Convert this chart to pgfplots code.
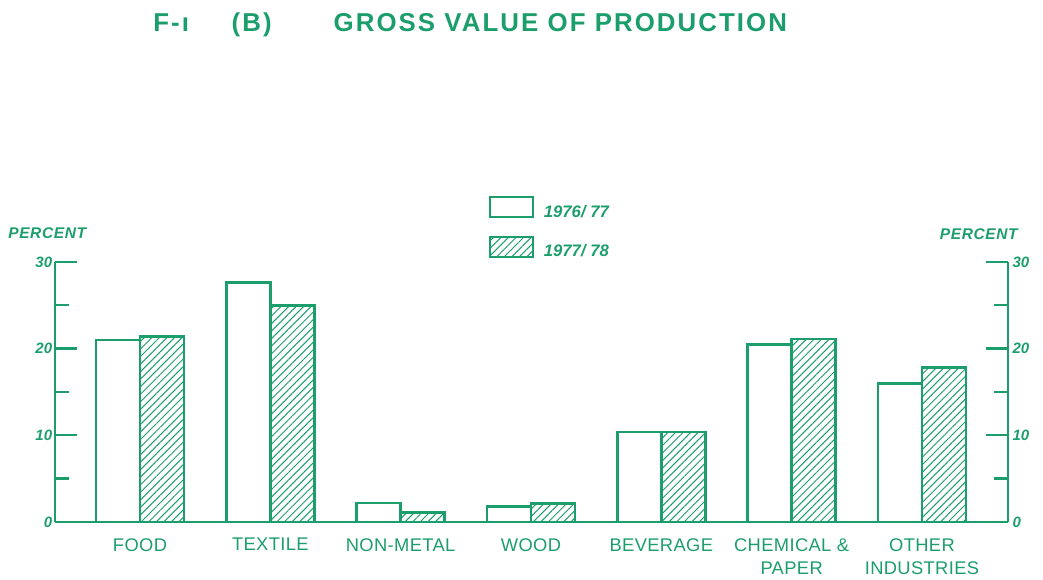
\documentclass[border=0pt]{standalone}
\usepackage{pgfplots}
\pgfplotsset{compat=1.18}
\usepackage{pgfplotstable}
\usepackage{fontspec}
\setmainfont{Liberation Sans}
\usetikzlibrary{patterns.meta}
\definecolor{grn}{RGB}{28,158,108}

% share of gross value of production, percent
\pgfplotstableread{
idx v7677 v7778
0 21.0 21.4
1 27.6 25.0
2 2.2 1.1
3 1.8 2.1
4 10.4 10.4
5 20.5 21.1
6 16.0 17.8
}\gvp

\pgfplotsset{
  common/.style={
    at={(33pt,34.8pt)}, anchor=south west,
    scale only axis, width=571.8pt, height=156pt,
    xmin=-0.652, xmax=6.66, ymin=0, ymax=30,
    axis line style={grn, line width=1.6pt},
    ytick={0,10,20,30}, minor ytick={5,15,25},
    tick align=inside,
    major tick length=13pt, minor tick length=8.4pt,
    tick style={grn, line width=1.4pt},
    /pgf/number format/assume math mode=true,
    yticklabel style={font=\fontsize{9}{10}\selectfont\bfseries\itshape, text=grn, inner sep=1.5pt},
  }
}

\begin{document}
\begin{tikzpicture}[x=0.6pt,y=0.6pt]
\useasboundingbox (0,0) rectangle (1043,580);

\begin{axis}[common,
  axis x line*=bottom, axis y line*=left,
  xtick={0,...,6},
  xticklabels={FOOD, TEXTILE, NON-METAL, WOOD, BEVERAGE, {CHEMICAL \&\\PAPER}, {OTHER\\INDUSTRIES}},
  x tick style={draw=none},
  xticklabel style={align=center, anchor=north, yshift=-6.2pt, text=grn,
    font=\fontsize{11}{13.8}\selectfont\addfontfeature{LetterSpace=2}},
  legend style={at={(0.455,1.254)}, anchor=north west, draw=none, fill=none,
    inner sep=0pt, row sep=7.8pt, text=grn,
    font=\fontsize{10}{12}\selectfont\bfseries\itshape,
    /tikz/every odd column/.style={column sep=4pt}},
  legend cell align=left,
  legend image code/.code={\draw[#1, line width=1.2pt] (0pt,-3pt) rectangle (25.8pt,9pt);},
]
\addplot[ybar, bar width=0.338, bar shift=-0.169, draw=grn, fill=white, line width=1.6pt]
  table[x=idx, y=v7677]{\gvp};
\addplot[ybar, bar width=0.338, bar shift=0.169, draw=grn, line width=1.6pt,
  pattern={Lines[angle=45, distance=3.2pt, line width=0.6pt]}, pattern color=grn]
  table[x=idx, y=v7778]{\gvp};
\legend{1976/ 77, 1977/ 78}
\end{axis}

\begin{axis}[common,
  axis x line=none, axis y line*=right,
  yticklabel style={inner sep=2.5pt},
]
\end{axis}

\node[anchor=west, inner sep=0pt, text=grn, font=\fontsize{9.3}{10}\selectfont\bfseries\itshape\addfontfeature{LetterSpace=4}]
  at (8,347) {PERCENT};
\node[anchor=east, inner sep=0pt, text=grn, font=\fontsize{9.3}{10}\selectfont\bfseries\itshape\addfontfeature{LetterSpace=4}]
  at (1018,346) {PERCENT};
\node[anchor=base west, inner sep=0pt, text=grn, font=\fontsize{15.5}{18}\selectfont\bfseries\addfontfeature{LetterSpace=8}]
  at (153,548) {F-ı\hspace{1.65em}(B)\hspace{2.4em}GROSS VALUE OF PRODUCTION};
\end{tikzpicture}
\end{document}
